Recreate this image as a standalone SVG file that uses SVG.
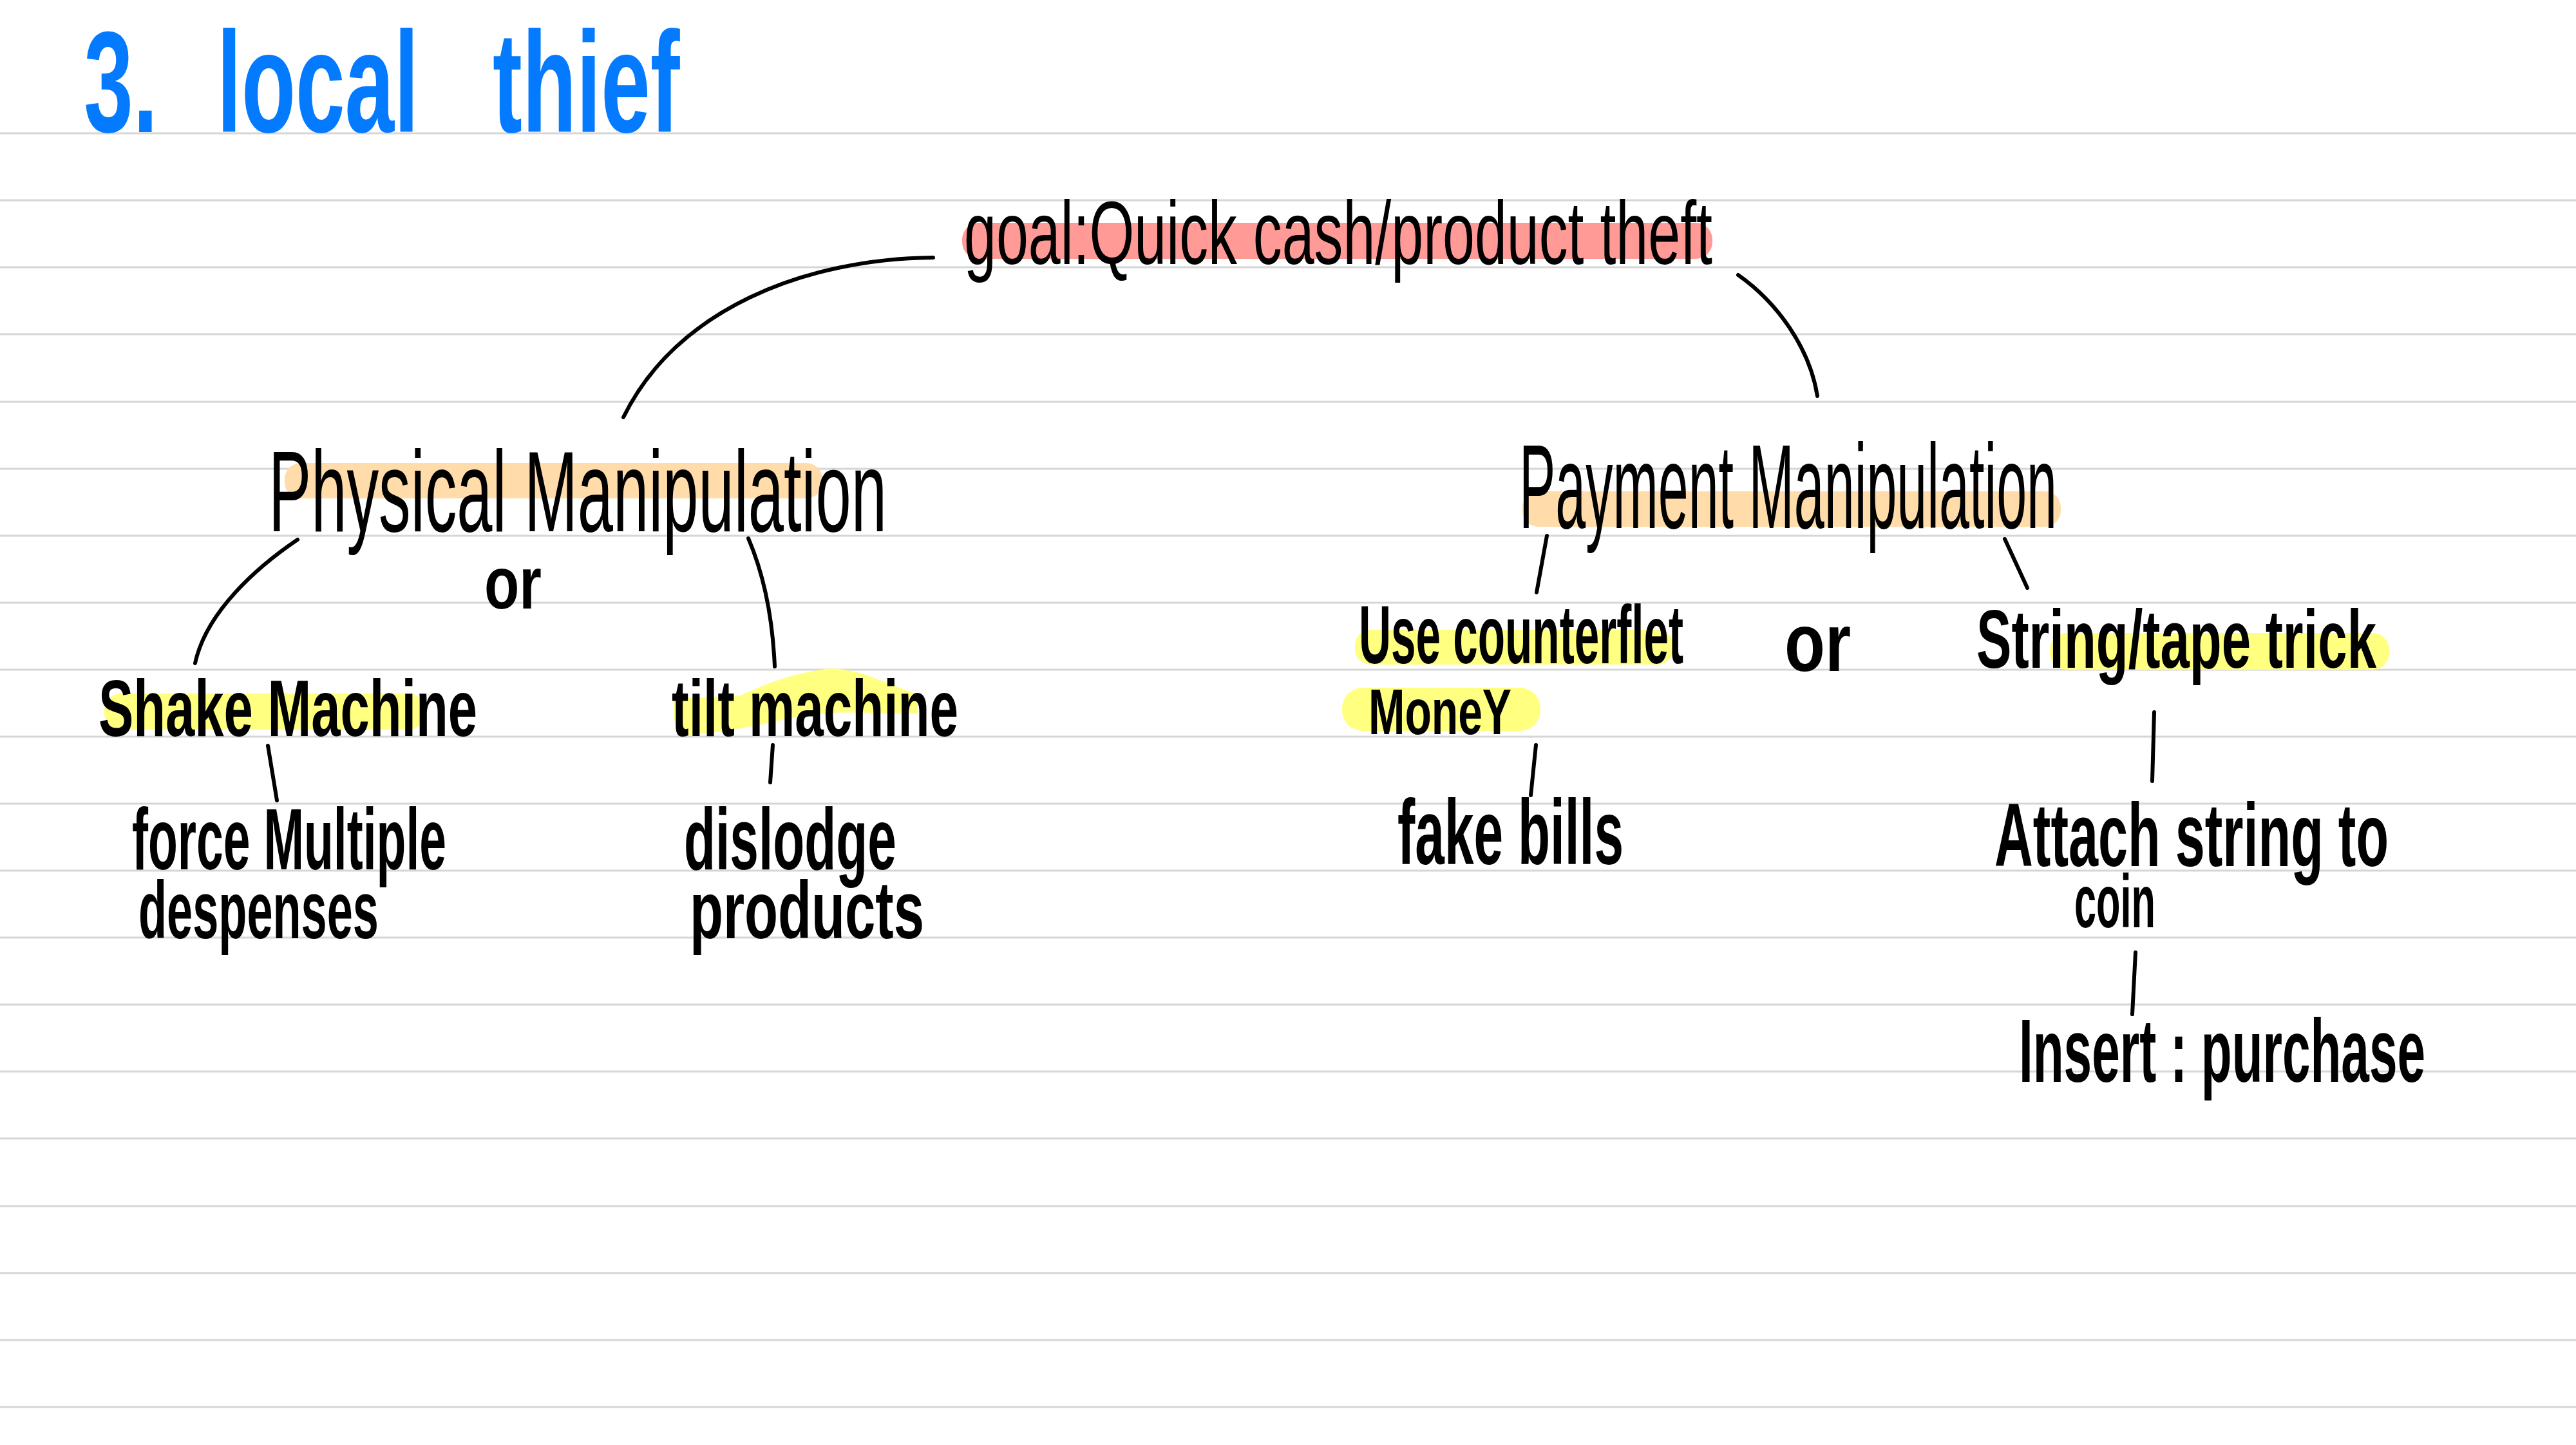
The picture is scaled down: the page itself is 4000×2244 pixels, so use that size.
<svg xmlns="http://www.w3.org/2000/svg" width="4000" height="2244" viewBox="0 0 4000 2244">
<style>
.t{font-family:"Liberation Sans",Arial,sans-serif;fill:#000}
.b{font-weight:bold}
.rule line{stroke:#d6d6d6;stroke-width:3}
.conn path{fill:none;stroke:#000;stroke-width:6;stroke-linecap:round}
.hr{fill:#ff9a96}
.ho{fill:#ffdca9}
.hy{fill:#ffff80}
</style>
<rect width="4000" height="2244" fill="#fff"/>
<g class="rule">
<line x1="0" y1="207" x2="4000" y2="207"/>
<line x1="0" y1="311" x2="4000" y2="311"/>
<line x1="0" y1="415" x2="4000" y2="415"/>
<line x1="0" y1="519" x2="4000" y2="519"/>
<line x1="0" y1="624" x2="4000" y2="624"/>
<line x1="0" y1="728" x2="4000" y2="728"/>
<line x1="0" y1="832" x2="4000" y2="832"/>
<line x1="0" y1="936" x2="4000" y2="936"/>
<line x1="0" y1="1040" x2="4000" y2="1040"/>
<line x1="0" y1="1144" x2="4000" y2="1144"/>
<line x1="0" y1="1248" x2="4000" y2="1248"/>
<line x1="0" y1="1352" x2="4000" y2="1352"/>
<line x1="0" y1="1456" x2="4000" y2="1456"/>
<line x1="0" y1="1560" x2="4000" y2="1560"/>
<line x1="0" y1="1664" x2="4000" y2="1664"/>
<line x1="0" y1="1768" x2="4000" y2="1768"/>
<line x1="0" y1="1873" x2="4000" y2="1873"/>
<line x1="0" y1="1977" x2="4000" y2="1977"/>
<line x1="0" y1="2081" x2="4000" y2="2081"/>
<line x1="0" y1="2185" x2="4000" y2="2185"/>
</g>
<g id="title">
<text class="t b" font-size="222" style="fill:#047bff" transform="scale(0.62,1)" y="205"><tspan x="210">3.</tspan><tspan x="543">local</tspan><tspan x="1234">thief</tspan></text>
</g>
<g class="conn" id="connectors">
<path d="M1449 400 C1250 402 1050 480 968 648"/>
<path d="M2699 427 C2760 470 2810 540 2822 615"/>
<path d="M462 838 C400 880 320 950 303 1030"/>
<path d="M1162 836 Q1198 920 1203 1035"/>
<path d="M416 1158 L430 1243"/>
<path d="M1200 1157 L1196 1215"/>
<path d="M2402 832 L2386 920"/>
<path d="M3113 837 L3148 913"/>
<path d="M2385 1157 L2377 1235"/>
<path d="M3345 1106 L3342 1213"/>
<path d="M3316 1479 L3311 1575"/>
</g>
<g id="goal">
<rect class="hr" x="1494" y="346" width="1165" height="56" rx="26"/>
<text class="t" x="1497" y="410" font-size="140" textLength="1162" lengthAdjust="spacingAndGlyphs">goal:Quick cash/product theft</text>
</g>
<g id="physical">
<rect class="ho" x="442" y="719" width="835" height="55" rx="25"/>
<text class="t" x="417" y="825" font-size="178" textLength="960" lengthAdjust="spacingAndGlyphs">Physical Manipulation</text>
</g>
<g id="or-left">
<text class="t b" x="752" y="945" font-size="115" textLength="89" lengthAdjust="spacingAndGlyphs">or</text>
</g>
<g id="shake">
<rect class="hy" x="162" y="1077" width="498" height="56" rx="25"/>
<text class="t b" x="153" y="1143" font-size="125" textLength="588" lengthAdjust="spacingAndGlyphs">Shake Machine</text>
</g>
<g id="tilt">
<path class="hy" d="M1047 1085 L1150 1080 C1190 1062 1230 1045 1290 1038 C1340 1040 1370 1060 1425 1078 L1425 1108 C1360 1110 1300 1100 1230 1115 C1180 1125 1130 1138 1060 1142 C1045 1135 1045 1100 1047 1085 Z"/>
<text class="t b" x="1043" y="1143" font-size="125" textLength="445" lengthAdjust="spacingAndGlyphs">tilt machine</text>
</g>
<g id="force">
<text class="t b" x="205" y="1350" font-size="136" textLength="488" lengthAdjust="spacingAndGlyphs">force Multiple</text>
<text class="t b" x="215" y="1457" font-size="126" textLength="373" lengthAdjust="spacingAndGlyphs">despenses</text>
</g>
<g id="dislodge">
<text class="t b" x="1062" y="1350" font-size="136" textLength="330" lengthAdjust="spacingAndGlyphs">dislodge</text>
<text class="t b" x="1071" y="1457" font-size="126" textLength="364" lengthAdjust="spacingAndGlyphs">products</text>
</g>
<g id="payment">
<rect class="ho" x="2364" y="763" width="836" height="55" rx="25"/>
<text class="t" x="2359" y="820" font-size="185" textLength="835" lengthAdjust="spacingAndGlyphs">Payment Manipulation</text>
</g>
<g id="counterfeit">
<rect class="hy" x="2104" y="978" width="494" height="54" rx="24"/>
<rect class="hy" x="2084" y="1068" width="308" height="67" rx="32"/>
<text class="t b" x="2110" y="1030" font-size="128" textLength="504" lengthAdjust="spacingAndGlyphs">Use counterflet</text>
<text class="t b" x="2125" y="1140" font-size="100" textLength="222" lengthAdjust="spacingAndGlyphs">MoneY</text>
</g>
<g id="or-right">
<text class="t b" x="2771" y="1042" font-size="128" textLength="103" lengthAdjust="spacingAndGlyphs">or</text>
</g>
<g id="string">
<rect class="hy" x="3183" y="983" width="527" height="57" rx="26"/>
<text class="t b" x="3069" y="1037" font-size="128" textLength="621" lengthAdjust="spacingAndGlyphs">String/tape trick</text>
</g>
<g id="fake">
<text class="t b" x="2170" y="1342" font-size="142" textLength="351" lengthAdjust="spacingAndGlyphs">fake bills</text>
</g>
<g id="attach">
<text class="t b" x="3097" y="1345" font-size="140" textLength="612" lengthAdjust="spacingAndGlyphs">Attach string to</text>
<text class="t b" x="3221" y="1440" font-size="116" textLength="126" lengthAdjust="spacingAndGlyphs">coin</text>
</g>
<g id="insert">
<text class="t b" x="3135" y="1680" font-size="140" textLength="631" lengthAdjust="spacingAndGlyphs">Insert : purchase</text>
</g>
</svg>
